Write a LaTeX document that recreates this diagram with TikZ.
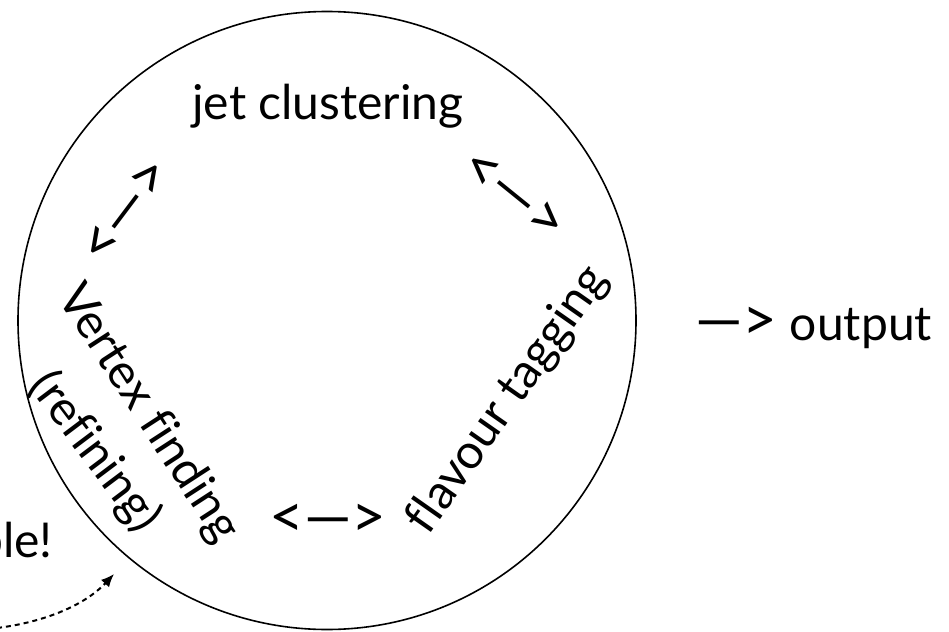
\documentclass[tikz,border=0pt]{standalone}
\usepackage{fontspec}
\setmainfont{Lato}[Ligatures={CommonOff}]
\usetikzlibrary{arrows.meta}
\newcommand\arrowsz{\fontsize{60}{60}\selectfont}
\begin{document}
\begin{tikzpicture}[x=1pt,y=-1pt,
  lbl/.style={font=\fontsize{48}{56}\selectfont, inner sep=0pt},
  arw/.style={font=\arrowsz, inner sep=0pt},
  ringstyle/.style={circle, draw, line width=1.6pt, minimum size=618pt, inner sep=0pt},
  dotarrow/.style={line width=2pt, dash pattern=on 5pt off 4pt, -{Latex[length=13pt,width=11pt]}}]
\useasboundingbox (0,0) rectangle (949,631);
\node[ringstyle] (ring) at (327,320.5) {};
\node[lbl, anchor=base] (jet) at (328,120) {jet clustering};
\node[arw, rotate=53] (a1) at (127,212) {<—>};
\node[arw, rotate=-39] (a2) at (513,196) {<—>};
\node[arw] (a3) at (328,521) {<—>};
\node[lbl, rotate=-57] (vf) at (148,414) {Vertex finding};
\node[lbl, rotate=-53] (ref) at (95,452) {(refining)};
\node[lbl, rotate=55] (ft) at (508,400) {flavour tagging};
\node[lbl, anchor=base west] (out) at (695,340) {{\arrowsz—>} output};
\node[lbl, anchor=base east] (ble) at (53,557) {ble!};
\coordinate (d0) at (-3,628);
\coordinate (d1) at (114,574);
\draw[dotarrow] (d0) .. controls (45,622) and (85,605) .. (d1);
\end{tikzpicture}
\end{document}
